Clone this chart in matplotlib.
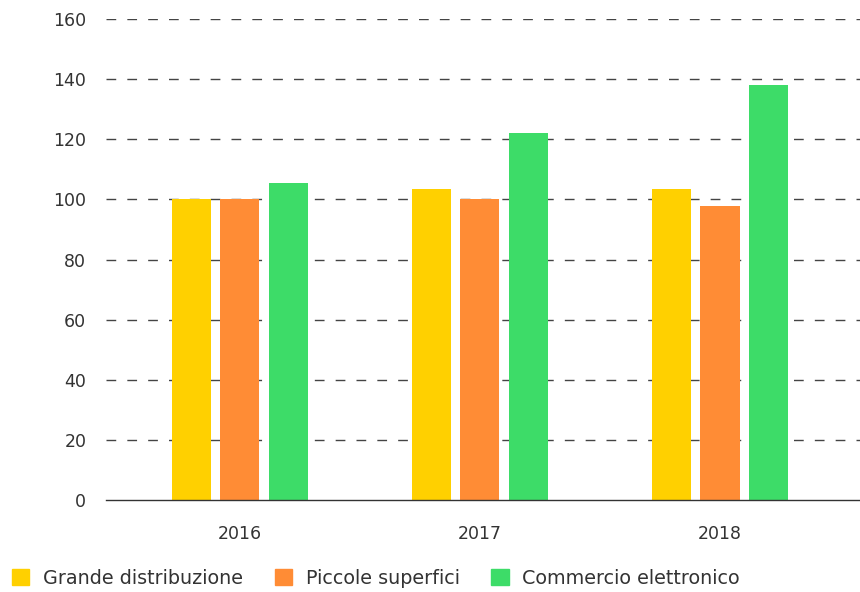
import matplotlib.pyplot as plt
from matplotlib.patches import Patch
import numpy as np

plt.rcParams['font.family'] = ['DejaVu Sans']

years = ['2016', '2017', '2018']
series = ['Grande distribuzione', 'Piccole superfici', 'Commercio elettronico']
grande = [100, 103.6, 103.6]
piccole = [100, 100, 97.9]
commercio = [105.3, 122.2, 137.9]
colors = ['#FFD000', '#FF8C35', '#3DDC68']

fig = plt.figure(figsize=(8.6, 5.92), dpi=100)
ax = fig.add_axes([0.123, 0.155, 0.877, 0.813])

x = np.arange(len(years))
w = 0.1625
step = 0.202
for i, vals in enumerate([grande, piccole, commercio]):
    ax.bar(x + (i - 1) * step, vals, width=w, color=colors[i], zorder=3)

ax.set_ylim(0, 160)
ax.set_xlim(-0.558, 2.583)
ax.set_yticks(range(0, 161, 20))
ax.set_xticks(x)
ax.set_xticklabels(years)
ax.yaxis.grid(True, linestyle=(0, (7, 8)), color='#444444', linewidth=1, zorder=0)
ax.get_ygridlines()[0].set_visible(False)
for s in ['top', 'right', 'left']:
    ax.spines[s].set_visible(False)
ax.spines['bottom'].set_color('#333333')
ax.spines['bottom'].set_linewidth(1)
ax.spines['bottom'].set_zorder(4)
ax.tick_params(axis='both', length=0, labelsize=12.5, colors='#333333')
ax.tick_params(axis='y', pad=14)
ax.tick_params(axis='x', pad=18)

handles = [Patch(color=c) for c in colors]
fig.legend(handles, series, loc='lower left', bbox_to_anchor=(0.005, -0.006),
           ncol=3, frameon=False, fontsize=13.8, handlelength=0.9,
           handleheight=0.9, handletextpad=0.72, columnspacing=1.65,
           labelcolor='#333333', borderaxespad=0.0)

fig.savefig('out.png', dpi=100)
